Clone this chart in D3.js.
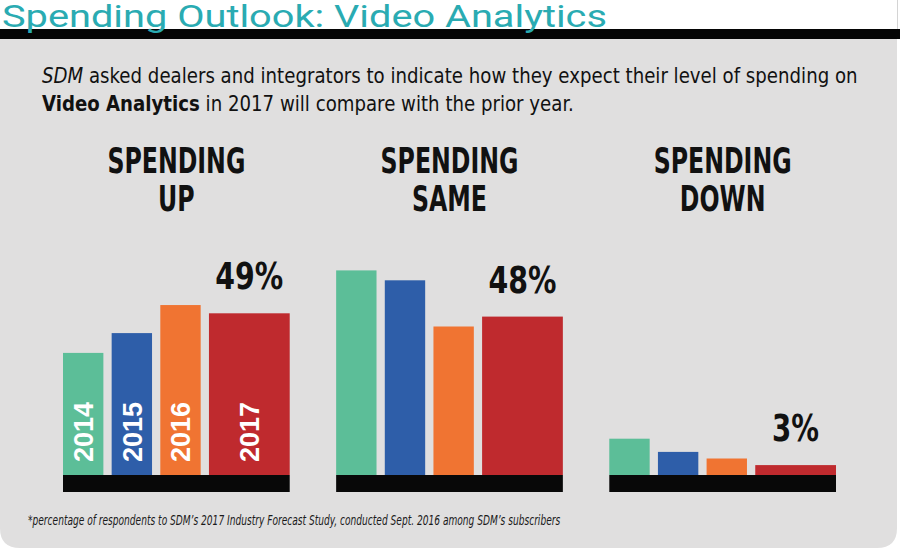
<!DOCTYPE html>
<html>
<head>
<meta charset="utf-8">
<script src="https://cdn.jsdelivr.net/npm/d3@7"></script>
<style>
  body { margin: 0; background: #ffffff; }
  svg { display: block; }
</style>
</head>
<body>
<div id="chart"></div>
<script>
//------Data
const years = ["2014", "2015", "2016", "2017"];
const groups = ["up", "same", "down"];
const headTop = ["SPENDING", "SPENDING", "SPENDING"];
const headBottom = ["UP", "SAME", "DOWN"];
const spendingUp = [37, 43, 51.5, 49];
const spendingSame = [62, 59, 45, 48];
const spendingDown = [11, 7, 5, 3];
const pctLabels = ["49%", "48%", "3%"];
const barWeights = [1, 1, 1, 2];

const seriesByGroup = [spendingUp, spendingSame, spendingDown];

const W = 900, H = 550;
const base = 475;

const svg = d3
  .select("#chart")
  .append("svg")
  .attr("width", W)
  .attr("height", H);

//------squeeze a text horizontally to a given width, around an anchor x
function squeeze(sel, ax, w) {
  const bw = sel.node().getBBox().width;
  const k = w / bw;
  sel.attr("transform", `translate(${ax},0) scale(${k},1) translate(${-ax},0)`);
  return k;
}

//------Background: white header, black band, grey panel with rounded bottom
svg.append("rect").attr("x", 0).attr("y", 0).attr("width", W).attr("height", H).attr("fill", "#ffffff");

const r = 20, px0 = 0, px1 = 897, py0 = 39, py1 = 548;
svg.append("path")
  .attr("d", `M${px0},${py0} H${px1} V${py1 - r} Q${px1},${py1} ${px1 - r},${py1} H${px0 + r} Q${px0},${py1} ${px0},${py1 - r} Z`)
  .attr("fill", "#e0dfdf");

svg.append("line")
  .attr("x1", 897.5).attr("x2", 897.5).attr("y1", 0).attr("y2", 30)
  .attr("stroke", "#d4d4d4");

svg.append("rect").attr("x", 0).attr("y", 29).attr("width", W).attr("height", 10).attr("fill", "#050505");

//------Title
const title = svg.append("text")
  .attr("x", 2)
  .attr("y", 27)
  .attr("font-family", "Roboto, 'DejaVu Sans', sans-serif")
  .attr("font-weight", 400)
  .attr("font-size", 32)
  .attr("fill", "#2aabb2")
  .text("Spending Outlook: Video Analytics");
squeeze(title, 2, 605);

//------Intro text
const cond = "'DejaVu Sans Condensed', 'Roboto', sans-serif";
const l1 = svg.append("text")
  .attr("x", 42).attr("y", 83)
  .attr("font-family", cond)
  .attr("font-size", 22)
  .attr("fill", "#111");
l1.append("tspan").attr("font-style", "italic").text("SDM");
l1.append("tspan").text(" asked dealers and integrators to indicate how they expect their level of spending on");
squeeze(l1, 42, 816);

const l2 = svg.append("text")
  .attr("x", 42).attr("y", 111)
  .attr("font-family", cond)
  .attr("font-size", 22)
  .attr("fill", "#111");
l2.append("tspan").attr("font-weight", "bold").text("Video Analytics");
l2.append("tspan").text(" in 2017 will compare with the prior year.");
squeeze(l2, 42, 532);

//------Scales
const panelScale = d3.scaleBand()
  .domain(groups)
  .range([63, 836])
  .paddingInner(0.17);

const gap = 0.205;
const starts = barWeights.map((w, i) => d3.sum(barWeights.slice(0, i)) + i * gap);
const totalUnits = d3.sum(barWeights) + (barWeights.length - 1) * gap;
const unitScale = d3.scaleLinear()
  .domain([0, totalUnits])
  .range([0, panelScale.bandwidth()]);

const yScale = d3.scaleLinear()
  .domain([0, 100])
  .range([base, base - 330]);

const color = d3.scaleOrdinal()
  .domain(years)
  .range(["#5cbe98", "#2e5ea9", "#f07432", "#bf2a2e"]);

//------Panels
groups.forEach((g, gi) => {
  const x0 = panelScale(g);
  const cx = x0 + panelScale.bandwidth() / 2;
  const pg = svg.append("g");

  const data = years.map((y, i) => ({
    year: y,
    value: seriesByGroup[gi][i],
    x: x0 + unitScale(starts[i]),
    w: unitScale(barWeights[i])
  }));

  pg.selectAll(".barre")
    .data(data)
    .enter()
    .append("rect")
    .attr("class", "barre")
    .attr("x", d => d.x)
    .attr("width", d => d.w)
    .attr("y", d => yScale(d.value))
    .attr("height", d => base - yScale(d.value))
    .attr("fill", d => color(d.year));

  //------black base
  pg.append("rect")
    .attr("x", x0)
    .attr("y", base)
    .attr("width", panelScale.bandwidth())
    .attr("height", 17)
    .attr("fill", "#080808");

  //------headings
  const h1 = pg.append("text")
    .attr("x", cx).attr("y", 173)
    .attr("text-anchor", "middle")
    .attr("font-family", cond)
    .attr("font-weight", "bold")
    .attr("font-size", 35)
    .attr("fill", "#111")
    .text(headTop[gi]);
  const k = squeeze(h1, cx, 138);
  pg.append("text")
    .attr("x", cx).attr("y", 211)
    .attr("text-anchor", "middle")
    .attr("font-family", cond)
    .attr("font-weight", "bold")
    .attr("font-size", 35)
    .attr("fill", "#111")
    .attr("transform", `translate(${cx},0) scale(${k},1) translate(${-cx},0)`)
    .text(headBottom[gi]);

  //------percentage over 2017 bar
  const last = data[data.length - 1];
  const lx = last.x + last.w / 2;
  const pct = pg.append("text")
    .attr("x", lx)
    .attr("y", yScale(last.value) - 24)
    .attr("text-anchor", "middle")
    .attr("font-family", cond)
    .attr("font-weight", "bold")
    .attr("font-size", 37)
    .attr("fill", "#111")
    .text(pctLabels[gi]);
  squeeze(pct, lx, pctLabels[gi].length === 3 ? 68 : 47);

  //------year labels only in first panel
  if (gi === 0) {
    pg.selectAll(".yr")
      .data(data)
      .enter()
      .append("text")
      .attr("class", "yr")
      .attr("transform", d => `translate(${d.x + d.w / 2 + 10},${base - 13}) rotate(-90)`)
      .attr("font-family", "'Liberation Sans', Arial, sans-serif")
      .attr("font-weight", "bold")
      .attr("font-size", 27)
      .attr("fill", "#ffffff")
      .text(d => d.year);
  }
});

//------Footnote
const fn = svg.append("text")
  .attr("x", 28).attr("y", 525)
  .attr("font-family", cond)
  .attr("font-style", "italic")
  .attr("font-size", 14)
  .attr("fill", "#1a1a1a")
  .text("*percentage of respondents to SDM\u2019s 2017 Industry Forecast Study, conducted Sept. 2016 among SDM\u2019s subscribers");
squeeze(fn, 28, 533);
</script>
</body>
</html>
